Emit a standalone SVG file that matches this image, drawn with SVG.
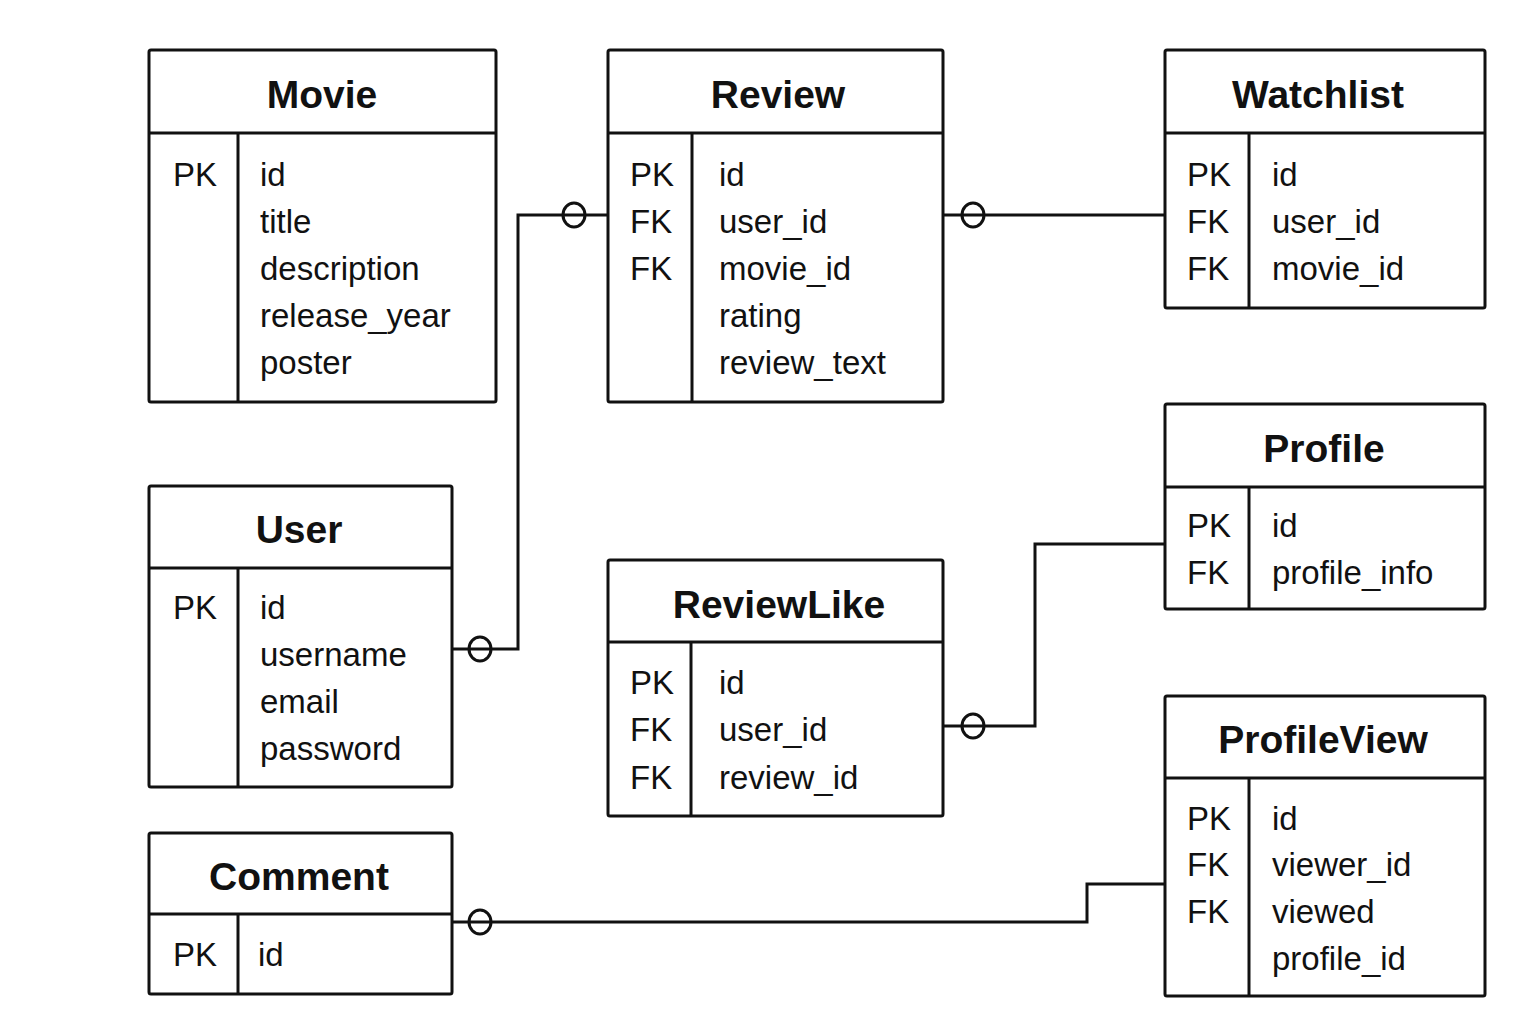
<svg xmlns="http://www.w3.org/2000/svg" width="1536" height="1024" viewBox="0 0 1536 1024">
<style>
.box{fill:#fff;stroke:#111;stroke-width:3;}
.ln{stroke:#111;stroke-width:3;fill:none;}
.t{font-family:"Liberation Sans",Arial,sans-serif;font-size:39px;font-weight:bold;fill:#111;text-anchor:middle;}
.f{font-family:"Liberation Sans",Arial,sans-serif;font-size:33px;fill:#111;}
.c{fill:none;stroke:#111;stroke-width:3;}
</style>
<rect width="1536" height="1024" fill="#fff"/>
<g id="connectors">
<polyline class="ln" points="452,649 518,649 518,215 608,215"/>
<ellipse class="c" cx="480" cy="649" rx="11" ry="12"/>
<ellipse class="c" cx="574" cy="215" rx="11" ry="12"/>
<line class="ln" x1="943" y1="215" x2="1165" y2="215"/>
<ellipse class="c" cx="973" cy="215" rx="11" ry="12"/>
<polyline class="ln" points="943,726 1035,726 1035,544 1165,544"/>
<ellipse class="c" cx="973" cy="726" rx="11" ry="12"/>
<polyline class="ln" points="452,922 1087,922 1087,884 1165,884"/>
<ellipse class="c" cx="480" cy="922" rx="11" ry="12"/>
</g>
<g id="movie">
<rect class="box" x="149" y="50" width="347" height="352" rx="2"/>
<line class="ln" x1="149" y1="133" x2="496" y2="133"/>
<line class="ln" x1="238" y1="133" x2="238" y2="402"/>
<text class="t" x="322" y="108">Movie</text>
<text class="f" x="173" y="186">PK</text>
<text class="f" x="260" y="186">id</text>
<text class="f" x="260" y="233">title</text>
<text class="f" x="260" y="280">description</text>
<text class="f" x="260" y="327">release_year</text>
<text class="f" x="260" y="374">poster</text>
</g>
<g id="review">
<rect class="box" x="608" y="50" width="335" height="352" rx="2"/>
<line class="ln" x1="608" y1="133" x2="943" y2="133"/>
<line class="ln" x1="692" y1="133" x2="692" y2="402"/>
<text class="t" x="778" y="108">Review</text>
<text class="f" x="630" y="186">PK</text>
<text class="f" x="630" y="233">FK</text>
<text class="f" x="630" y="280">FK</text>
<text class="f" x="719" y="186">id</text>
<text class="f" x="719" y="233">user_id</text>
<text class="f" x="719" y="280">movie_id</text>
<text class="f" x="719" y="327">rating</text>
<text class="f" x="719" y="374">review_text</text>
</g>
<g id="watchlist">
<rect class="box" x="1165" y="50" width="320" height="258" rx="2"/>
<line class="ln" x1="1165" y1="133" x2="1485" y2="133"/>
<line class="ln" x1="1249" y1="133" x2="1249" y2="308"/>
<text class="t" x="1318" y="108">Watchlist</text>
<text class="f" x="1187" y="186">PK</text>
<text class="f" x="1187" y="233">FK</text>
<text class="f" x="1187" y="280">FK</text>
<text class="f" x="1272" y="186">id</text>
<text class="f" x="1272" y="233">user_id</text>
<text class="f" x="1272" y="280">movie_id</text>
</g>
<g id="profile">
<rect class="box" x="1165" y="404" width="320" height="205" rx="2"/>
<line class="ln" x1="1165" y1="487" x2="1485" y2="487"/>
<line class="ln" x1="1249" y1="487" x2="1249" y2="609"/>
<text class="t" x="1324" y="462">Profile</text>
<text class="f" x="1187" y="537">PK</text>
<text class="f" x="1187" y="584">FK</text>
<text class="f" x="1272" y="537">id</text>
<text class="f" x="1272" y="584">profile_info</text>
</g>
<g id="user">
<rect class="box" x="149" y="486" width="303" height="301" rx="2"/>
<line class="ln" x1="149" y1="568" x2="452" y2="568"/>
<line class="ln" x1="238" y1="568" x2="238" y2="787"/>
<text class="t" x="299" y="543">User</text>
<text class="f" x="173" y="619">PK</text>
<text class="f" x="260" y="619">id</text>
<text class="f" x="260" y="666">username</text>
<text class="f" x="260" y="713">email</text>
<text class="f" x="260" y="760">password</text>
</g>
<g id="reviewlike">
<rect class="box" x="608" y="560" width="335" height="256" rx="2"/>
<line class="ln" x1="608" y1="642" x2="943" y2="642"/>
<line class="ln" x1="691" y1="642" x2="691" y2="816"/>
<text class="t" x="779" y="618">ReviewLike</text>
<text class="f" x="630" y="694">PK</text>
<text class="f" x="630" y="741">FK</text>
<text class="f" x="630" y="789">FK</text>
<text class="f" x="719" y="694">id</text>
<text class="f" x="719" y="741">user_id</text>
<text class="f" x="719" y="789">review_id</text>
</g>
<g id="profileview">
<rect class="box" x="1165" y="696" width="320" height="300" rx="2"/>
<line class="ln" x1="1165" y1="778" x2="1485" y2="778"/>
<line class="ln" x1="1249" y1="778" x2="1249" y2="996"/>
<text class="t" x="1323" y="753">ProfileView</text>
<text class="f" x="1187" y="830">PK</text>
<text class="f" x="1187" y="876">FK</text>
<text class="f" x="1187" y="923">FK</text>
<text class="f" x="1272" y="830">id</text>
<text class="f" x="1272" y="876">viewer_id</text>
<text class="f" x="1272" y="923">viewed</text>
<text class="f" x="1272" y="970">profile_id</text>
</g>
<g id="comment">
<rect class="box" x="149" y="833" width="303" height="161" rx="2"/>
<line class="ln" x1="149" y1="914" x2="452" y2="914"/>
<line class="ln" x1="238" y1="914" x2="238" y2="994"/>
<text class="t" x="299" y="890">Comment</text>
<text class="f" x="173" y="966">PK</text>
<text class="f" x="258" y="966">id</text>
</g>
</svg>
